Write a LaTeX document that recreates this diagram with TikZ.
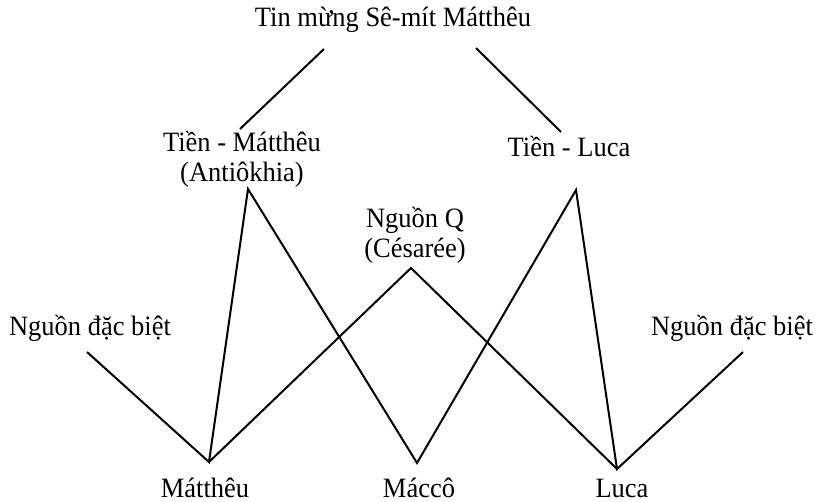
\documentclass[tikz,border=0pt]{standalone}
\usepackage{fontspec}
\setmainfont{Liberation Serif}[FakeStretch=0.946]
\begin{document}
\begin{tikzpicture}[x=1pt,y=-1pt,
  label/.style={anchor=base,inner sep=0pt,align=center,
    font=\fontsize{28}{30}\selectfont},
  link/.style={line width=2pt,line join=miter}]
\useasboundingbox (0,0) rectangle (818,502);

% text labels (base line of the last line of each label)
\node[label] (title) at (393,27) {Tin mừng Sê-mít Mátthêu};
\node[label] (prematt) at (242,182) {Tiền - Mátthêu\\(Antiôkhia)};
\node[label] (preluca) at (569,157) {Tiền - Luca};
\node[label] (q) at (415,258) {Nguồn Q\\(Césarée)};
\node[label] (specl) at (90,335) {Nguồn đặc biệt};
\node[label] (specr) at (732,335) {Nguồn đặc biệt};
\node[label] (matt) at (205,497) {Mátthêu};
\node[label] (mark) at (419,497) {Máccô};
\node[label] (luke) at (622,497) {Luca};

% end points of the connecting lines
\coordinate (tl1) at (324,49);
\coordinate (tl2) at (240,129);
\coordinate (tr1) at (476,48);
\coordinate (tr2) at (561,132);
\coordinate (apM) at (248,189);
\coordinate (apL) at (576,190);
\coordinate (apQ) at (411,268);
\coordinate (sl) at (87,352);
\coordinate (sr) at (743,352);
\coordinate (bM) at (209,462);
\coordinate (bK) at (417,463);
\coordinate (bL) at (617,469);

% lines
\draw[link] (tl1) -- (tl2);
\draw[link] (tr1) -- (tr2);
\draw[link] (sl) -- (bM) -- (apM) -- (bK) -- (apL) -- (bL) -- (sr);
\draw[link] (bM) -- (apQ) -- (bL);
\end{tikzpicture}
\end{document}
